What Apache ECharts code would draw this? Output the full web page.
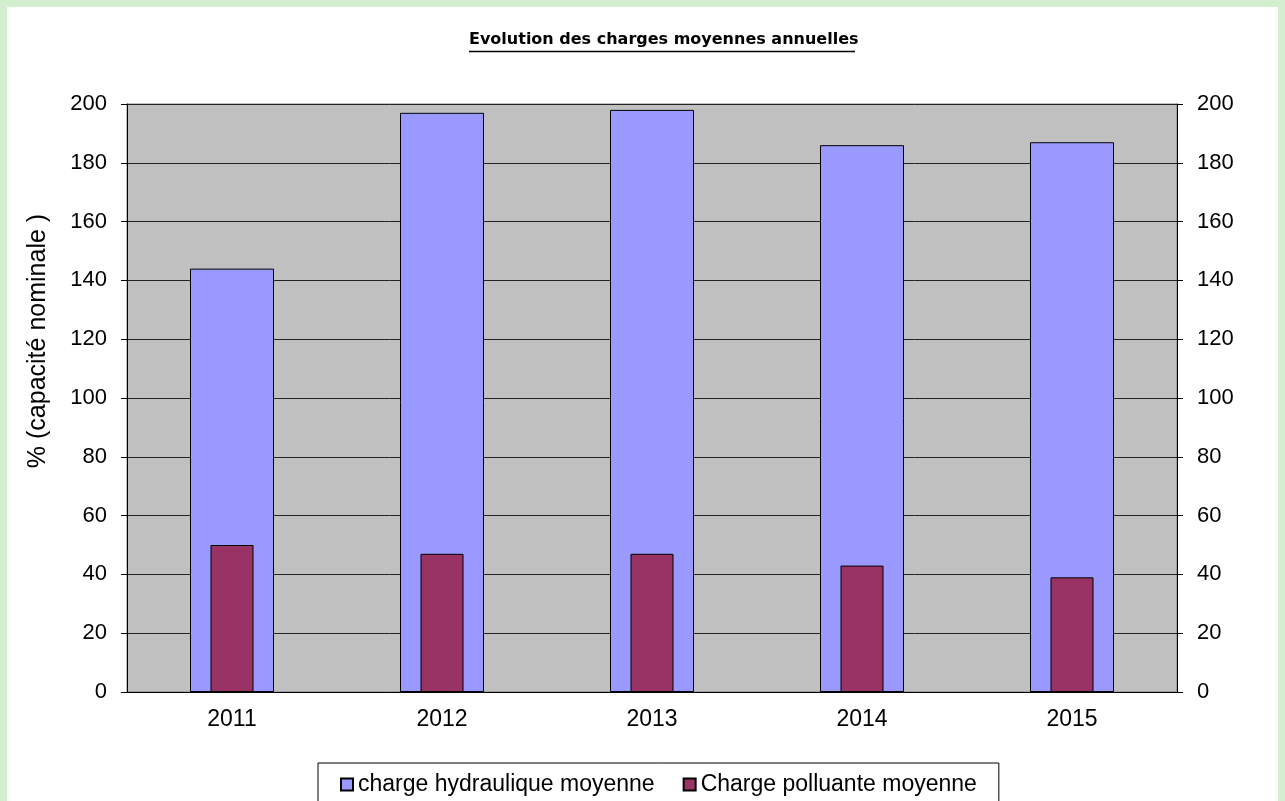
<!DOCTYPE html>
<html>
<head>
<meta charset="utf-8">
<script src="https://cdn.jsdelivr.net/npm/echarts@6/dist/echarts.min.js"></script>
<style>
  html, body { margin: 0; padding: 0; }
  body { width: 1285px; height: 801px; background: #d4efcf; position: relative; overflow: hidden; }
  #chart { position: absolute; left: 7px; top: 7px; width: 1271px; height: 794px; background: #fff; }
</style>
</head>
<body>
<div id="chart"></div>
<script>
var years = ['2011', '2012', '2013', '2014', '2015'];
var hydraulique = [144, 197, 198, 186, 187];
var polluante = [50, 47, 47, 43, 39];
var yTicks = [0, 200, 20]; // min, max, interval

var font = '"Liberation Sans", Arial, sans-serif';
var myChart = echarts.init(document.getElementById('chart'));

function valueAxis(pos) {
  return {
    type: 'value',
    position: pos,
    min: yTicks[0],
    max: yTicks[1],
    interval: yTicks[2],
    axisLine: { show: true, lineStyle: { color: '#000', width: 1 } },
    axisTick: { show: true, length: 6, lineStyle: { color: '#000' } },
    axisLabel: { margin: 20, color: '#000', fontSize: 22, fontFamily: font },
    splitLine: { show: pos === 'left', lineStyle: { color: '#222', width: 1 } }
  };
}

var option = {
  animation: false,
  graphic: [
    {
      type: 'text',
      left: 462, top: 25,
      style: { text: 'Evolution des charges moyennes annuelles', fill: '#000',
        font: 'bold 16px "DejaVu Sans", sans-serif' }
    },
    {
      type: 'line',
      shape: { x1: 462, y1: 44.5, x2: 848, y2: 44.5 },
      style: { stroke: '#000', lineWidth: 1.5 }
    },
    {
      type: 'text',
      x: 31, y: 334,
      rotation: Math.PI / 2,
      style: { text: '% (capacité nominale )', fill: '#000', font: '25px ' + font,
        textAlign: 'center', textVerticalAlign: 'middle' }
    }
  ],
  grid: {
    left: 120, right: 101, top: 97, bottom: 109,
    show: true, backgroundColor: '#c0c0c0', borderColor: '#808080', borderWidth: 1
  },
  legend: {
    left: 311, top: 756,
    padding: [10, 22, 20, 22],
    itemGap: 28,
    itemWidth: 12, itemHeight: 12,
    icon: 'rect',
    borderColor: '#000', borderWidth: 1,
    backgroundColor: '#fff',
    textStyle: { color: '#000', fontSize: 23, fontFamily: font },
    data: ['charge hydraulique moyenne', 'Charge polluante moyenne']
  },
  xAxis: [
    {
      type: 'category',
      data: years,
      axisLine: { lineStyle: { color: '#000', width: 1 } },
      axisTick: { length: 7, lineStyle: { color: '#000' } },
      axisLabel: { margin: 16, color: '#000', fontSize: 23, fontFamily: font }
    },
    {
      type: 'category',
      data: years,
      position: 'bottom',
      show: false
    }
  ],
  yAxis: [valueAxis('left'), valueAxis('right')],
  series: [
    {
      name: 'charge hydraulique moyenne',
      type: 'bar',
      xAxisIndex: 0,
      barWidth: 84,
      itemStyle: { color: '#9999ff', borderColor: '#000', borderWidth: 1 },
      data: hydraulique
    },
    {
      name: 'Charge polluante moyenne',
      type: 'bar',
      xAxisIndex: 1,
      barWidth: 43,
      itemStyle: { color: '#993366', borderColor: '#000', borderWidth: 1 },
      data: polluante
    }
  ]
};

myChart.setOption(option);
</script>
</body>
</html>
